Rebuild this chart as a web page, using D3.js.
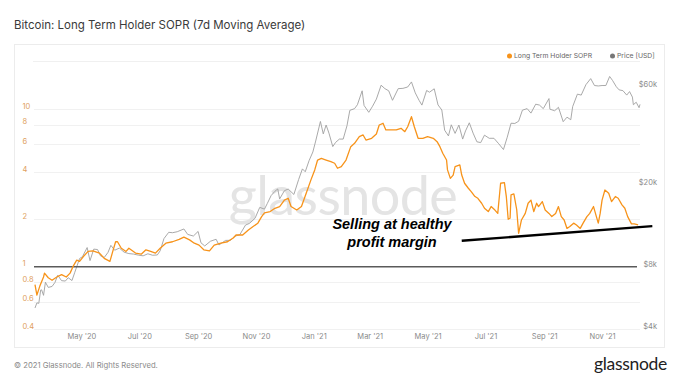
<!DOCTYPE html>
<html><head><meta charset="utf-8">
<script src="https://cdn.jsdelivr.net/npm/d3@7"></script>
<style>
html,body{margin:0;padding:0;background:#fff;}
svg{display:block;font-family:Inter,"Open Sans",sans-serif;}
</style></head>
<body>
<svg id="c" width="680" height="383"></svg>
<script>
const titleText = "Bitcoin: Long Term Holder SOPR (7d Moving Average)";
const legendLabels = ["Long Term Holder SOPR", "Price [USD]"];
const soprTicks = [0.4, 0.6, 0.8, 1, 2, 4, 6, 8, 10];
const priceTicks = [4000, 8000, 20000, 60000];
const priceTickLabels = ["$4k", "$8k", "$20k", "$60k"];
const xTicks = ["2020-05-01","2020-07-01","2020-09-01","2020-11-01","2021-01-01","2021-03-01","2021-05-01","2021-07-01","2021-09-01","2021-11-01"];
const annotationLines = ["Selling at healthy", "profit margin"];
const trendDates = ["2021-06-06", "2021-12-24"];
const trendValues = [1.46, 1.81];

const soprDates = ["2020-03-13","2020-03-15","2020-03-18","2020-03-22","2020-03-23","2020-03-27","2020-03-31","2020-04-05","2020-04-10","2020-04-15","2020-04-19","2020-04-22","2020-04-26","2020-04-29","2020-05-03","2020-05-08","2020-05-13","2020-05-20","2020-05-25","2020-05-31","2020-06-03","2020-06-06","2020-06-08","2020-06-12","2020-06-17","2020-06-20","2020-06-27","2020-07-03","2020-07-08","2020-07-13","2020-07-18","2020-07-23","2020-07-29","2020-08-05","2020-08-12","2020-08-17","2020-08-23","2020-08-28","2020-09-02","2020-09-07","2020-09-13","2020-09-18","2020-09-25","2020-10-02","2020-10-08","2020-10-11","2020-10-18","2020-10-24","2020-10-29","2020-11-03","2020-11-07","2020-11-10","2020-11-16","2020-11-21","2020-11-26","2020-12-01","2020-12-05","2020-12-08","2020-12-14","2020-12-19","2020-12-24","2020-12-29","2021-01-02","2021-01-05","2021-01-09","2021-01-14","2021-01-19","2021-01-23","2021-01-26","2021-01-30","2021-02-04","2021-02-09","2021-02-13","2021-02-18","2021-02-22","2021-02-25","2021-03-03","2021-03-08","2021-03-11","2021-03-15","2021-03-18","2021-03-22","2021-03-29","2021-04-03","2021-04-07","2021-04-10","2021-04-14","2021-04-17","2021-04-21","2021-04-26","2021-05-01","2021-05-07","2021-05-11","2021-05-14","2021-05-17","2021-05-21","2021-05-22","2021-05-25","2021-05-28","2021-05-30","2021-06-04","2021-06-06","2021-06-09","2021-06-13","2021-06-16","2021-06-20","2021-06-23","2021-06-27","2021-06-30","2021-07-04","2021-07-07","2021-07-11","2021-07-14","2021-07-17","2021-07-21","2021-07-23","2021-07-25","2021-07-27","2021-07-28","2021-07-31","2021-08-03","2021-08-05","2021-08-08","2021-08-12","2021-08-15","2021-08-18","2021-08-21","2021-08-24","2021-08-26","2021-08-30","2021-09-02","2021-09-06","2021-09-09","2021-09-13","2021-09-16","2021-09-19","2021-09-22","2021-09-25","2021-09-28","2021-10-02","2021-10-05","2021-10-09","2021-10-12","2021-10-16","2021-10-19","2021-10-23","2021-10-26","2021-10-28","2021-10-30","2021-11-01","2021-11-04","2021-11-08","2021-11-11","2021-11-15","2021-11-18","2021-11-22","2021-11-25","2021-11-28","2021-12-02","2021-12-05","2021-12-09"];
const soprValues = [0.77,0.66,0.75,0.86,0.91,0.85,0.82,0.86,0.89,0.86,0.91,1.00,1.10,1.08,1.16,1.25,1.26,1.22,1.13,1.08,1.25,1.44,1.44,1.31,1.25,1.31,1.22,1.20,1.28,1.25,1.22,1.31,1.41,1.44,1.49,1.54,1.48,1.41,1.37,1.28,1.26,1.37,1.41,1.44,1.52,1.59,1.59,1.71,1.80,1.89,2.08,2.20,2.24,2.35,2.41,2.65,2.72,2.41,2.29,2.41,2.93,3.56,4.12,4.76,4.88,4.76,4.65,4.54,4.22,4.32,4.76,5.79,6.08,6.70,6.87,6.38,6.54,6.97,7.95,8.15,7.39,7.39,7.39,7.57,7.21,7.75,8.97,7.75,6.54,6.54,6.70,6.54,6.23,5.79,5.26,4.76,4.12,3.64,3.82,4.32,4.43,3.82,3.39,3.15,3.00,2.79,2.72,2.53,2.35,2.24,2.41,2.29,2.18,3.39,3.42,2.80,2.00,2.03,2.86,2.90,2.30,1.63,1.98,2.18,2.53,2.65,2.24,2.53,2.41,2.59,2.29,2.18,2.08,2.18,2.41,2.08,1.98,1.75,1.80,1.89,1.84,1.75,1.89,2.08,2.18,2.41,2.08,1.89,2.18,2.65,3.07,2.93,2.59,2.79,2.72,2.47,2.35,2.08,1.87,1.87,1.84];

const priceDates = ["2020-03-13","2020-03-15","2020-03-17","2020-03-19","2020-03-20","2020-03-22","2020-03-24","2020-03-27","2020-03-31","2020-04-03","2020-04-06","2020-04-10","2020-04-14","2020-04-17","2020-04-21","2020-04-24","2020-04-29","2020-05-02","2020-05-07","2020-05-10","2020-05-14","2020-05-18","2020-05-21","2020-05-25","2020-05-29","2020-06-01","2020-06-05","2020-06-10","2020-06-15","2020-06-20","2020-06-25","2020-06-30","2020-07-05","2020-07-10","2020-07-15","2020-07-20","2020-07-23","2020-07-27","2020-08-01","2020-08-05","2020-08-10","2020-08-17","2020-08-21","2020-08-27","2020-09-01","2020-09-04","2020-09-08","2020-09-14","2020-09-20","2020-09-23","2020-09-30","2020-10-05","2020-10-10","2020-10-15","2020-10-21","2020-10-25","2020-10-31","2020-11-05","2020-11-10","2020-11-13","2020-11-17","2020-11-21","2020-11-24","2020-11-26","2020-12-01","2020-12-05","2020-12-11","2020-12-16","2020-12-20","2020-12-23","2020-12-27","2020-12-31","2021-01-03","2021-01-08","2021-01-11","2021-01-14","2021-01-17","2021-01-21","2021-01-24","2021-01-28","2021-02-01","2021-02-05","2021-02-08","2021-02-13","2021-02-16","2021-02-21","2021-02-23","2021-02-28","2021-03-04","2021-03-08","2021-03-13","2021-03-17","2021-03-21","2021-03-25","2021-03-31","2021-04-05","2021-04-10","2021-04-14","2021-04-18","2021-04-22","2021-04-25","2021-04-30","2021-05-03","2021-05-08","2021-05-12","2021-05-16","2021-05-19","2021-05-23","2021-05-26","2021-05-30","2021-06-03","2021-06-07","2021-06-10","2021-06-14","2021-06-18","2021-06-22","2021-06-26","2021-06-30","2021-07-05","2021-07-10","2021-07-15","2021-07-20","2021-07-24","2021-07-28","2021-08-01","2021-08-05","2021-08-09","2021-08-14","2021-08-18","2021-08-23","2021-08-27","2021-08-31","2021-09-06","2021-09-07","2021-09-12","2021-09-16","2021-09-21","2021-09-25","2021-09-29","2021-10-01","2021-10-06","2021-10-10","2021-10-15","2021-10-20","2021-10-24","2021-10-28","2021-11-01","2021-11-05","2021-11-09","2021-11-12","2021-11-16","2021-11-19","2021-11-23","2021-11-27","2021-11-30","2021-12-03","2021-12-04","2021-12-07","2021-12-10","2021-12-11"];
const priceValues = [5060,5360,5330,6190,6200,5830,6750,6370,6440,6730,7300,6870,6840,7100,6880,7550,8800,8980,9950,8600,9780,9730,9080,8900,9430,10200,9660,9890,9450,9300,9250,9140,9070,9280,9130,9160,9600,11000,11800,11750,11880,12250,11530,11320,11920,10500,10130,10680,10920,10240,10780,10790,11300,11500,12800,13030,13800,15600,15300,16300,17800,18680,19170,17150,18800,19150,18030,21300,24000,23240,26300,29000,32780,40800,35500,39200,35800,30800,32280,33500,33500,38900,46200,47100,49200,57500,48800,45200,48400,52400,61200,58900,57500,51700,58900,59100,60000,63500,56200,51700,49000,57700,56600,58800,49100,46400,37000,34700,39300,35700,39200,33500,36700,40200,35800,32500,32200,35000,33800,33800,31800,29800,34200,40000,39900,40900,46300,47100,44800,49500,49000,47100,52700,46800,46000,47800,40700,42800,41600,48200,55400,54800,61600,65900,61000,60700,61000,61000,67500,64600,60200,58100,57600,54800,57000,53600,49200,50600,47600,49400];

const svg = d3.select("#c");
const parse = d3.timeParse("%Y-%m-%d");

const x = d3.scaleTime().domain([parse("2020-03-13"), parse("2021-12-11")]).range([35, 640]);
const yS = d3.scaleLog().domain([0.4, 10]).range([329.3, 109.3]);
const yP = d3.scaleLog().domain([4000, 60000]).range([329, 87]);

// panel border
svg.append("rect").attr("x", 14.5).attr("y", 44.5).attr("width", 650).attr("height", 303)
  .attr("fill", "none").attr("stroke", "#ececec").attr("stroke-width", 1);

// title
svg.append("text").attr("x", 14).attr("y", 29).attr("font-size", 11.5).attr("fill", "#3a3a3a")
  .text(titleText);

// top line
svg.append("line").attr("x1", 33).attr("x2", 640).attr("y1", 61.5).attr("y2", 61.5)
  .attr("stroke", "#f0f0f0");

// gridlines
svg.append("g").selectAll("line").data(soprTicks.filter(d => d !== 1)).join("line")
  .attr("x1", 34).attr("x2", 640)
  .attr("y1", d => Math.round(yS(d)) + 0.5).attr("y2", d => Math.round(yS(d)) + 0.5)
  .attr("stroke", "#f1f1f1");

// watermark
svg.append("text").attr("x", 343).attr("y", 215).attr("text-anchor", "middle")
  .attr("font-family", "Lato, 'Noto Sans', sans-serif").attr("font-size", 54).attr("fill", "#e4e4e4")
  .attr("letter-spacing", -0.6).text("glassnode");

// left tick labels
svg.append("g").selectAll("text").data(soprTicks).join("text")
  .attr("x", 22.5).attr("y", d => yS(d) - 3).attr("dy", "0.35em")
  .attr("font-size", 7.5).attr("fill", "#e0a060")
  .text(d => d3.format("~g")(d));

// right tick labels
svg.append("g").selectAll("text").data(priceTicks).join("text")
  .attr("x", 657).attr("y", d => yP(d) - 3).attr("dy", "0.35em").attr("text-anchor", "end")
  .attr("font-size", 7.5).attr("fill", "#8a8a8a")
  .text((d, i) => priceTickLabels[i]);

// x axis
const xAxis = d3.axisBottom(x).tickValues(xTicks.map(parse)).tickFormat(d3.timeFormat("%b '%y")).tickSize(0).tickPadding(0);
const gx = svg.append("g").attr("transform", "translate(0,334)").call(xAxis);
gx.select(".domain").remove();
gx.selectAll("text").attr("font-size", 7.5).attr("fill", "#8a8a8a").attr("font-family", "Inter, sans-serif").attr("dy", "0.71em");

// price line
const priceData = priceDates.map((d, i) => ({ d: parse(d), v: priceValues[i] }));
svg.append("path").datum(priceData)
  .attr("d", d3.line().x(p => x(p.d)).y(p => yP(p.v)))
  .attr("fill", "none").attr("stroke", "#9f9f9f").attr("stroke-width", 0.9).attr("stroke-linejoin", "round");

// SOPR = 1 line
svg.append("line").attr("x1", 34).attr("x2", 637).attr("y1", yS(1)).attr("y2", yS(1))
  .attr("stroke", "#5a5a5a").attr("stroke-width", 1.5);

// sopr line
const soprData = soprDates.map((d, i) => ({ d: parse(d), v: soprValues[i] }));
svg.append("path").datum(soprData)
  .attr("d", d3.line().x(p => x(p.d)).y(p => yS(p.v)))
  .attr("fill", "none").attr("stroke", "#f7931a").attr("stroke-width", 1.3).attr("stroke-linejoin", "round");

// legend
const lg = svg.append("g");
lg.append("circle").attr("cx", 509.5).attr("cy", 56).attr("r", 2.5).attr("fill", "#f7931a");
lg.append("text").attr("x", 514).attr("y", 58.4).attr("font-size", 6.8).attr("fill", "#666").text(legendLabels[0]);
lg.append("circle").attr("cx", 612.5).attr("cy", 56).attr("r", 2.5).attr("fill", "#777");
lg.append("text").attr("x", 617).attr("y", 58.4).attr("font-size", 6.8).attr("fill", "#666").text(legendLabels[1]);

// annotation trend line
svg.append("line")
  .attr("x1", x(parse(trendDates[0]))).attr("y1", yS(trendValues[0]))
  .attr("x2", x(parse(trendDates[1]))).attr("y2", yS(trendValues[1]))
  .attr("stroke", "#000").attr("stroke-width", 2.4);

const ann = svg.append("text").attr("text-anchor", "middle")
  .attr("font-family", "'Liberation Sans', Arial, sans-serif").attr("font-weight", "bold").attr("font-style", "italic")
  .attr("font-size", 14.5).attr("fill", "#000");
annotationLines.forEach((t, i) => ann.append("tspan").attr("x", 392).attr("y", 229 + i * 18).text(t));

// footer
svg.append("text").attr("x", 14).attr("y", 368).attr("font-size", 7.7).attr("fill", "#8a8a8a")
  .text("© 2021 Glassnode. All Rights Reserved.");
svg.append("text").attr("x", 667).attr("y", 370).attr("text-anchor", "end")
  .attr("font-family", "Lato, 'Noto Sans', sans-serif").attr("font-size", 17.5).attr("fill", "#222")
  .attr("letter-spacing", -0.3).text("glassnode");
</script>
</body></html>
